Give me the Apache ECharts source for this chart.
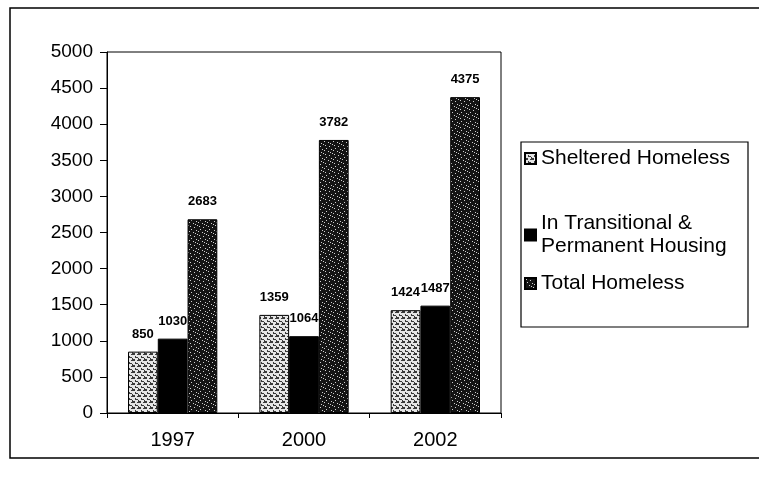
<!DOCTYPE html>
<html>
<head>
<meta charset="utf-8">
<script src="https://cdn.jsdelivr.net/npm/echarts@6/dist/echarts.min.js"></script>
<style>
  html, body { margin: 0; padding: 0; background: #fff; }
  #chart { width: 759px; height: 483px; }
</style>
</head>
<body>
<div id="chart"></div>
<script>
// Homeless counts by year
const years = ['1997', '2000', '2002'];
const sheltered = [850, 1359, 1424];
const transitional = [1030, 1064, 1487];
const totalHomeless = [2683, 3782, 4375];
const seriesNames = ['Sheltered Homeless', 'In Transitional &\nPermanent Housing', 'Total Homeless'];

const font = 'Liberation Sans, Arial, sans-serif';

// Small repeating fill textures for the hatched bars
function makeTile(size, base, ink, cells) {
  const c = document.createElement('canvas');
  c.width = size; c.height = size;
  const g = c.getContext('2d');
  g.fillStyle = base; g.fillRect(0, 0, size, size);
  g.fillStyle = ink;
  cells.forEach(([x, y, w, h]) => g.fillRect(x, y, w || 1, h || 1));
  return c;
}
// light brick-like weave
const lightTile = makeTile(6, '#e6e6e6', '#3a3a3a',
  [[0, 0, 3, 1], [3, 2, 1, 2], [4, 3, 2, 1], [0, 4, 1, 2], [1, 5, 2, 1], [5, 0, 1, 1]]);
// dark speckle
const darkTile = makeTile(9, '#141414', '#cfcfcf',
  [[1, 1], [5, 2], [2, 4], [7, 5], [4, 7], [0, 6], [8, 0], [6, 8]]);

const lightFill = { image: lightTile, repeat: 'repeat' };
const darkFill = { image: darkTile, repeat: 'repeat' };

const chart = echarts.init(document.getElementById('chart'));

const valueLabel = {
  show: true, position: 'top', distance: 11,
  color: '#000', fontSize: 13, fontWeight: 'bold', fontFamily: font
};

function legendAt(name, top) {
  return {
    data: [name], left: 524, top: top, orient: 'vertical',
    icon: 'rect', itemWidth: 11, itemHeight: 11, itemGap: 4, padding: 0,
    textStyle: { color: '#000', fontSize: 21, fontFamily: font, lineHeight: 23 }
  };
}

chart.setOption({
  animation: false,
  backgroundColor: '#fff',
  graphic: [
    { type: 'rect', shape: { x: 10, y: 8, width: 760, height: 450 },
      style: { fill: 'none', stroke: '#000', lineWidth: 1.5 }, silent: true },
    { type: 'rect', shape: { x: 521, y: 142, width: 227, height: 185 },
      style: { fill: 'none', stroke: '#000', lineWidth: 1.2 }, silent: true }
  ],
  legend: [
    legendAt(seriesNames[0], 147),
    legendAt(seriesNames[1], 212),
    legendAt(seriesNames[2], 272)
  ],
  grid: {
    left: 107, right: 258, top: 52, bottom: 70,
    show: true, borderColor: '#000', borderWidth: 1
  },
  xAxis: {
    type: 'category', data: years,
    axisLine: { lineStyle: { color: '#000', width: 1 } },
    axisTick: { show: true, length: 5, lineStyle: { color: '#000' } },
    axisLabel: { color: '#000', fontSize: 20, fontFamily: font, margin: 17 }
  },
  yAxis: {
    type: 'value', min: 0, max: 5000, interval: 500,
    axisLine: { show: true, lineStyle: { color: '#000', width: 1 } },
    axisTick: { show: true, length: 7, lineStyle: { color: '#000' } },
    splitLine: { show: false },
    axisLabel: { color: '#000', fontSize: 19, fontFamily: font, margin: 14,
      formatter: v => String(v) }
  },
  series: [
    { name: seriesNames[0], type: 'bar', data: sheltered,
      barGap: '0%', barCategoryGap: '32%',
      itemStyle: { color: lightFill, borderColor: '#000', borderWidth: 1 },
      label: valueLabel },
    { name: seriesNames[1], type: 'bar', data: transitional,
      itemStyle: { color: '#000', borderColor: '#000', borderWidth: 1 },
      label: valueLabel },
    { name: seriesNames[2], type: 'bar', data: totalHomeless,
      itemStyle: { color: darkFill, borderColor: '#000', borderWidth: 1 },
      label: valueLabel }
  ]
});
</script>
</body>
</html>
